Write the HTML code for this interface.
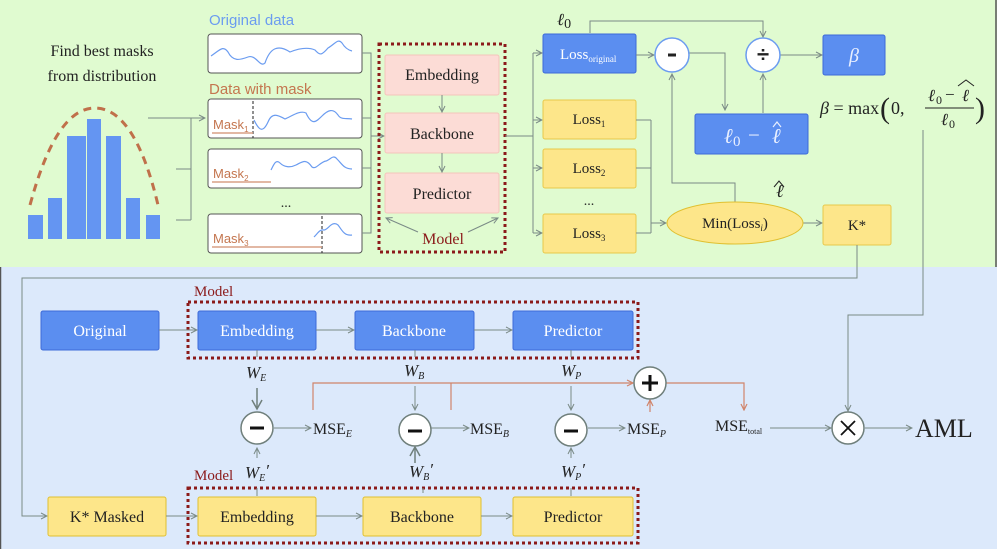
<!DOCTYPE html>
<html><head><meta charset="utf-8"><style>
html,body{margin:0;padding:0;}
svg{display:block;font-family:"Liberation Serif",serif;}
</style></head><body>
<svg width="997" height="549" viewBox="0 0 997 549" xmlns="http://www.w3.org/2000/svg">
<defs>
<marker id="a" markerWidth="8" markerHeight="8" refX="7" refY="4" orient="auto" markerUnits="userSpaceOnUse"><path d="M1,1 L7,4 L1,7" fill="none" stroke="#7a8a86" stroke-width="1"/></marker>
<marker id="ao" markerWidth="8" markerHeight="8" refX="7" refY="4" orient="auto" markerUnits="userSpaceOnUse"><path d="M1,1 L7,4 L1,7" fill="none" stroke="#d0846a" stroke-width="1.2"/></marker>
<marker id="ab" markerWidth="12" markerHeight="12" refX="10" refY="6" orient="auto" markerUnits="userSpaceOnUse"><path d="M1,1 L10,6 L1,11" fill="none" stroke="#6f7f7b" stroke-width="1.5"/></marker>
</defs>
<rect x="0" y="0" width="997" height="267" fill="#e0fbd0"/>
<rect x="0" y="267" width="997" height="282" fill="#dce9fb"/>
<line x1="996" y1="0" x2="996" y2="267" stroke="#555" stroke-width="1.5"/>
<line x1="0.5" y1="267" x2="0.5" y2="549" stroke="#555" stroke-width="1.5"/>

<text x="102" y="56" text-anchor="middle" font-size="16" fill="#222">Find best masks</text>
<text x="102" y="81" text-anchor="middle" font-size="16" fill="#222">from distribution</text>
<g fill="#6495f2">
<rect x="28" y="215" width="15" height="24"/><rect x="48" y="198" width="14" height="41"/>
<rect x="67" y="136" width="19" height="103"/><rect x="87" y="119" width="14" height="120"/>
<rect x="106" y="136" width="15" height="103"/><rect x="126" y="198" width="14" height="41"/>
<rect x="146" y="215" width="14" height="24"/></g>
<path d="M30,205 C45,150 65,108 95,108 C125,108 145,150 158,205" fill="none" stroke="#c0704a" stroke-width="3" stroke-dasharray="8,6"/>

<g stroke="#7a8a86" stroke-width="1" fill="none">
<line x1="148" y1="118" x2="205" y2="118" marker-end="url(#a)"/>
<line x1="191" y1="118" x2="191" y2="220"/>
<line x1="176" y1="169" x2="191" y2="169"/>
<line x1="176" y1="220" x2="191" y2="220"/>
</g>

<text x="209" y="25" font-size="15" fill="#6b9cf0" font-family="Liberation Sans,sans-serif">Original data</text>
<text x="209" y="94" font-size="15" fill="#c4764f" font-family="Liberation Sans,sans-serif">Data with mask</text>
<g fill="#fff" stroke="#555" stroke-width="1">
<rect x="208" y="34" width="154" height="39" rx="3"/>
<rect x="208" y="99" width="154" height="39" rx="3"/>
<rect x="208" y="149" width="154" height="39" rx="3"/>
<rect x="208" y="214" width="154" height="39" rx="3"/>
</g>
<g fill="none" stroke="#6b9cf0" stroke-width="1.2">
<path d="M211,56 C220,50 223,45 228,52 C233,62 240,60 248,57 C256,54 260,68 265,63 C270,48 278,44 290,52 C300,48 308,47 315,50 C320,56 322,55 328,48 C335,44 338,38 342,43 C345,48 348,50 352,51"/>
<path d="M254,120 C258,128 262,135 268,122 C272,112 278,115 285,119 C292,116 300,110 306,113 C312,126 316,122 322,116 C328,110 333,108 338,115 C341,120 346,118 352,119"/>
<path d="M271,170 C274,164 276,159 280,163 C284,167 290,168 296,165 C302,162 306,158 312,167 C316,170 320,162 326,161 C330,160 333,154 337,159 C342,164 344,169 352,169"/>
<path d="M314,237 C318,233 320,229 324,230 C328,230 332,220 338,225 C342,230 344,236 352,235"/>
</g>
<g stroke="#222" stroke-width="1" stroke-dasharray="3,2"><line x1="253" y1="101" x2="253" y2="138"/><line x1="322" y1="216" x2="322" y2="253"/></g>
<g stroke="#d8a086" stroke-width="1.5"><line x1="212" y1="133" x2="253" y2="133"/><line x1="212" y1="182" x2="271" y2="182"/><line x1="212" y1="247" x2="322" y2="247"/></g>
<g fill="#c4764f" font-family="Liberation Sans,sans-serif" font-size="13">
<text x="213" y="129">Mask<tspan font-size="8" dy="3">1</tspan></text>
<text x="213" y="178">Mask<tspan font-size="8" dy="3">2</tspan></text>
<text x="213" y="243">Mask<tspan font-size="8" dy="3">3</tspan></text></g>
<text x="286" y="207" text-anchor="middle" font-size="14" fill="#222">...</text>

<g stroke="#7a8a86" stroke-width="1" fill="none">
<polyline points="362,53 371,53 371,233 362,233"/>
<line x1="362" y1="118" x2="371" y2="118"/><line x1="362" y1="168" x2="371" y2="168"/>
<line x1="371" y1="136" x2="384" y2="136" marker-end="url(#a)"/>
</g>
<rect x="379" y="44" width="126" height="208" fill="none" stroke="#8b1a1a" stroke-width="3" stroke-dasharray="3,3"/>
<g fill="#fcdcd6" stroke="#f5c4bb"><rect x="385" y="55" width="114" height="40" rx="2"/><rect x="385" y="113" width="114" height="40" rx="2"/><rect x="385" y="173" width="114" height="40" rx="2"/></g>
<g font-size="16" fill="#222" text-anchor="middle"><text x="442" y="80">Embedding</text><text x="442" y="139">Backbone</text><text x="442" y="199">Predictor</text></g>
<g stroke="#7a8a86" stroke-width="1" fill="none">
<line x1="442" y1="95" x2="442" y2="112" marker-end="url(#a)"/><line x1="442" y1="153" x2="442" y2="172" marker-end="url(#a)"/>
<line x1="418" y1="232" x2="386" y2="218" marker-end="url(#a)"/><line x1="468" y1="232" x2="498" y2="218" marker-end="url(#a)"/>
</g>
<text x="443" y="244" text-anchor="middle" font-size="16" fill="#8b1a1a">Model</text>

<g stroke="#7a8a86" stroke-width="1" fill="none">
<line x1="505" y1="136" x2="533" y2="136"/>
<line x1="533" y1="53" x2="533" y2="233"/>
<line x1="533" y1="53" x2="542" y2="53" marker-end="url(#a)"/>
<line x1="533" y1="120" x2="542" y2="120" marker-end="url(#a)"/>
<line x1="533" y1="168" x2="542" y2="168" marker-end="url(#a)"/>
<line x1="533" y1="233" x2="542" y2="233" marker-end="url(#a)"/>
</g>
<rect x="543" y="34" width="93" height="39" rx="2" fill="#5b8ef0" stroke="#3d6ad8"/>
<text x="560" y="59" font-size="15" fill="#fff">Loss<tspan font-size="9" dy="3">original</tspan></text>
<g fill="#fde68a" stroke="#e8c84a"><rect x="543" y="100" width="93" height="39" rx="2"/><rect x="543" y="149" width="93" height="39" rx="2"/><rect x="543" y="214" width="93" height="39" rx="2"/></g>
<g font-size="15" fill="#222" text-anchor="middle"><text x="589" y="124">Loss<tspan font-size="9" dy="3">1</tspan></text><text x="589" y="173">Loss<tspan font-size="9" dy="3">2</tspan></text><text x="589" y="238">Loss<tspan font-size="9" dy="3">3</tspan></text></g>
<text x="589" y="205" text-anchor="middle" font-size="14" fill="#222">...</text>
<text x="557" y="25" font-size="17" font-style="italic" fill="#222">ℓ<tspan font-style="normal" font-size="14" dy="3">0</tspan></text>

<g stroke="#7a8a86" stroke-width="1" fill="none">
<line x1="636" y1="55" x2="654" y2="55" marker-end="url(#a)"/>
<polyline points="689,53 725,53 725,110" marker-end="url(#a)"/>
<line x1="763" y1="113" x2="763" y2="74" marker-end="url(#a)"/>
<polyline points="590,33 590,21 763,21 763,37" marker-end="url(#a)"/>
<line x1="780" y1="55" x2="822" y2="55" marker-end="url(#a)"/>
<line x1="636" y1="120" x2="651" y2="120"/><line x1="636" y1="168" x2="651" y2="168"/><line x1="636" y1="233" x2="651" y2="233"/>
<line x1="651" y1="120" x2="651" y2="233"/>
<line x1="651" y1="223" x2="666" y2="223" marker-end="url(#a)"/>
<polyline points="735,202 735,183 672,183 672,74" marker-end="url(#a)"/>
<line x1="803" y1="223" x2="822" y2="223" marker-end="url(#a)"/>
</g>
<circle cx="672" cy="55" r="17" fill="#fff" stroke="#6b9cf0" stroke-width="1.5"/>
<line x1="668" y1="55" x2="676" y2="55" stroke="#222" stroke-width="3"/>
<circle cx="763" cy="55" r="17" fill="#fff" stroke="#6b9cf0" stroke-width="1.5"/>
<text x="763" y="62" text-anchor="middle" font-size="22" font-weight="bold" fill="#222" font-family="Liberation Sans,sans-serif">÷</text>
<rect x="823" y="35" width="62" height="40" rx="2" fill="#5b8ef0" stroke="#3d6ad8"/>
<text x="854" y="62" text-anchor="middle" font-size="20" font-style="italic" fill="#e8efff">β</text>
<rect x="695" y="114" width="113" height="40" rx="2" fill="#5b8ef0" stroke="#3d6ad8"/>
<g fill="#e8efff" font-size="21">
<text x="724" y="143" font-style="italic">ℓ</text><text x="733" y="146" font-size="15">0</text>
<text x="748" y="142">−</text><text x="772" y="143" font-style="italic">ℓ</text></g>
<path d="M773,127 L777,122 L781,127" fill="none" stroke="#e8efff" stroke-width="1.2"/>

<text x="820" y="114" font-size="18" fill="#222"><tspan font-style="italic">β</tspan> = max</text>
<text x="880" y="118" font-size="30" fill="#222">(</text>
<text x="891" y="114" font-size="18" fill="#222">0,</text>
<g fill="#222" font-size="17"><text x="928" y="101" font-style="italic">ℓ</text><text x="936" y="104" font-size="12">0</text><text x="945" y="100">−</text><text x="962" y="101" font-style="italic">ℓ</text></g>
<path d="M958,86 L966,80 L974,86" fill="none" stroke="#222" stroke-width="1"/>
<line x1="925" y1="108" x2="974" y2="108" stroke="#222" stroke-width="1"/>
<text x="941" y="125" font-size="17" font-style="italic" fill="#222">ℓ</text><text x="949" y="128" font-size="12" fill="#222">0</text>
<text x="975" y="118" font-size="30" fill="#222">)</text>
<ellipse cx="735" cy="223" rx="68" ry="21" fill="#fde68a" stroke="#e0c030"/>
<text x="735" y="228" text-anchor="middle" font-size="15" fill="#222">Min(Loss<tspan font-size="9" dy="3" font-style="italic">i</tspan><tspan dy="-3">)</tspan></text>
<text x="776" y="197" font-size="18" font-style="italic" fill="#222">ℓ</text>
<path d="M774,187 L779,181 L784,187" fill="none" stroke="#222" stroke-width="1"/>
<rect x="823" y="205" width="68" height="40" rx="2" fill="#fde68a" stroke="#e8c84a"/>
<text x="857" y="230" text-anchor="middle" font-size="15" fill="#222">K*</text>

<g stroke="#7a8a86" stroke-width="1" fill="none">
<polyline points="857,245 857,278 22,278 22,516 47,516" marker-end="url(#a)"/>
<polyline points="923,130 923,315 848,315 848,411" marker-end="url(#a)"/>
</g>

<text x="194" y="296" font-size="15" fill="#8b1a1a">Model</text>
<rect x="188" y="302" width="450" height="56" fill="none" stroke="#8b1a1a" stroke-width="3" stroke-dasharray="3,3"/>
<g fill="#5b8ef0" stroke="#3d6ad8"><rect x="41" y="311" width="118" height="39" rx="2"/><rect x="198" y="311" width="118" height="39" rx="2"/><rect x="355" y="311" width="119" height="39" rx="2"/><rect x="513" y="311" width="120" height="39" rx="2"/></g>
<g font-size="16" fill="#fff" text-anchor="middle"><text x="100" y="336">Original</text><text x="257" y="336">Embedding</text><text x="414" y="336">Backbone</text><text x="573" y="336">Predictor</text></g>
<text x="194" y="480" font-size="15" fill="#8b1a1a">Model</text>
<rect x="188" y="488" width="450" height="55" fill="none" stroke="#8b1a1a" stroke-width="3" stroke-dasharray="3,3"/>
<g fill="#fde68a" stroke="#e0c030"><rect x="48" y="497" width="118" height="39" rx="2"/><rect x="198" y="497" width="118" height="39" rx="2"/><rect x="363" y="497" width="118" height="39" rx="2"/><rect x="513" y="497" width="120" height="39" rx="2"/></g>
<g font-size="16" fill="#222" text-anchor="middle"><text x="107" y="522">K* Masked</text><text x="257" y="522">Embedding</text><text x="422" y="522">Backbone</text><text x="573" y="522">Predictor</text></g>
<g stroke="#7a8a86" stroke-width="1" fill="none">
<line x1="159" y1="330" x2="197" y2="330" marker-end="url(#a)"/>
<line x1="316" y1="330" x2="354" y2="330" marker-end="url(#a)"/>
<line x1="474" y1="330" x2="512" y2="330" marker-end="url(#a)"/>
<line x1="166" y1="516" x2="197" y2="516" marker-end="url(#a)"/>
<line x1="316" y1="516" x2="362" y2="516" marker-end="url(#a)"/>
<line x1="481" y1="516" x2="512" y2="516" marker-end="url(#a)"/>
<line x1="257" y1="350" x2="257" y2="357"/><line x1="415" y1="350" x2="415" y2="357"/><line x1="571" y1="350" x2="571" y2="357"/>
<line x1="257" y1="488" x2="257" y2="496"/><line x1="423" y1="488" x2="423" y2="493"/><line x1="571" y1="488" x2="571" y2="496"/>
<line x1="571" y1="386" x2="571" y2="410" marker-end="url(#a)"/>
<line x1="415" y1="386" x2="415" y2="410" marker-end="url(#a)"/>
<line x1="257" y1="458" x2="257" y2="448" marker-end="url(#a)"/>
<line x1="571" y1="458" x2="571" y2="448" marker-end="url(#a)"/>
<line x1="274" y1="428" x2="311" y2="428" marker-end="url(#a)"/>
<line x1="431" y1="428" x2="469" y2="428" marker-end="url(#a)"/>
<line x1="588" y1="428" x2="625" y2="428" marker-end="url(#a)"/>
<line x1="770" y1="428" x2="831" y2="428" marker-end="url(#a)"/>
<line x1="865" y1="428" x2="912" y2="428" marker-end="url(#a)"/>
</g>
<line x1="257" y1="388" x2="257" y2="409" stroke="#6f7f7b" stroke-width="1.5" marker-end="url(#ab)"/>
<line x1="415" y1="463" x2="415" y2="447" stroke="#6f7f7b" stroke-width="1.5" marker-end="url(#ab)"/>
<g stroke="#d0846a" stroke-width="1.2" fill="none">
<polyline points="313,410 313,383 633,383" marker-end="url(#ao)"/>
<line x1="451" y1="383" x2="451" y2="410"/>
<line x1="650" y1="412" x2="650" y2="400" marker-end="url(#ao)"/>
<polyline points="666,383 744,383 744,410" marker-end="url(#ao)"/>
</g>
<g fill="#fff" stroke="#6f7f7b" stroke-width="1.5"><circle cx="257" cy="428" r="16"/><circle cx="415" cy="430" r="16"/><circle cx="571" cy="430" r="16"/><circle cx="650" cy="383" r="16"/><circle cx="848" cy="428" r="16"/></g>
<g stroke="#111" stroke-width="3"><line x1="250" y1="428" x2="264" y2="428"/><line x1="408" y1="431" x2="422" y2="431"/><line x1="564" y1="431" x2="578" y2="431"/><line x1="642" y1="383" x2="658" y2="383"/><line x1="650" y1="375" x2="650" y2="391"/></g>
<g stroke="#111" stroke-width="1.8"><line x1="841" y1="421" x2="855" y2="435"/><line x1="855" y1="421" x2="841" y2="435"/></g>
<g font-size="17" fill="#222">
<text x="246" y="378" font-style="italic">W<tspan font-size="10" dy="3">E</tspan></text>
<text x="404" y="376" font-style="italic">W<tspan font-size="10" dy="3">B</tspan></text>
<text x="561" y="376" font-style="italic">W<tspan font-size="10" dy="3">P</tspan></text>
<text x="245" y="478" font-style="italic">W<tspan font-size="10" dy="3">E</tspan><tspan dy="-5">′</tspan></text>
<text x="409" y="477" font-style="italic">W<tspan font-size="10" dy="3">B</tspan><tspan dy="-5">′</tspan></text>
<text x="561" y="477" font-style="italic">W<tspan font-size="10" dy="3">P</tspan><tspan dy="-5">′</tspan></text>
<text x="313" y="434" font-size="16">MSE<tspan font-size="10" dy="3" font-style="italic">E</tspan></text>
<text x="470" y="434" font-size="16">MSE<tspan font-size="10" dy="3" font-style="italic">B</tspan></text>
<text x="627" y="434" font-size="16">MSE<tspan font-size="10" dy="3" font-style="italic">P</tspan></text>
<text x="715" y="431" font-size="16">MSE<tspan font-size="8" dy="3">total</tspan></text>
<text x="915" y="437" font-size="26">AML</text>
</g>
</svg>
</body></html>
